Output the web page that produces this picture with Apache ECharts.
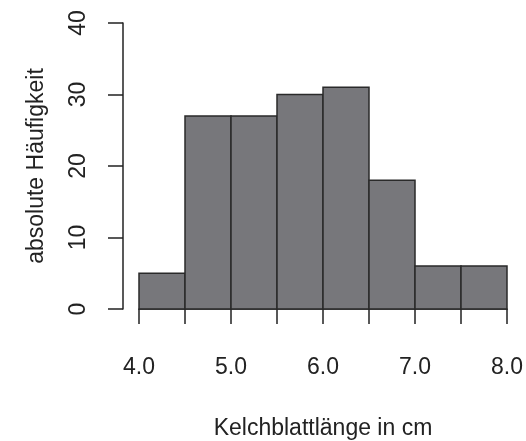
<!DOCTYPE html>
<html><head><meta charset="utf-8">
<script src="https://cdn.jsdelivr.net/npm/echarts@6/dist/echarts.min.js"></script>
<style>html,body{margin:0;padding:0;background:#fff}#c{width:526px;height:441px}</style>
</head><body><div id="c"></div>
<script>
const binStarts = [4.0, 4.5, 5.0, 5.5, 6.0, 6.5, 7.0, 7.5];
const binEnds   = [4.5, 5.0, 5.5, 6.0, 6.5, 7.0, 7.5, 8.0];
const counts    = [5, 27, 27, 30, 31, 18, 6, 6];
const xTitle = 'Kelchblattlänge in cm';
const yTitle = 'absolute Häufigkeit';

const data = binStarts.map((s, i) => [s, binEnds[i], counts[i]]);
const font = 'Liberation Sans, Arial, sans-serif';
const chart = echarts.init(document.getElementById('c'));
chart.setOption({
  animation: false,
  grid: {left: 139, right: 19, top: 23, bottom: 132, containLabel: false, outerBoundsMode: 'none'},
  xAxis: {
    type: 'value', min: 4, max: 8, interval: 0.5, offset: 12,
    axisLine: {show: true, lineStyle: {color: '#222', width: 1.5}},
    axisTick: {show: true, length: 15, lineStyle: {color: '#222', width: 1.5}},
    splitLine: {show: false},
    axisLabel: {margin: 35, fontSize: 23, color: '#222', fontFamily: font,
      formatter: v => (Math.round(v * 2) % 2 === 0 ? v.toFixed(1) : '')},
    name: xTitle, nameLocation: 'middle', nameGap: 96,
    nameTextStyle: {fontSize: 23, color: '#222', fontFamily: font}
  },
  yAxis: {
    type: 'value', min: 0, max: 40, interval: 10, offset: 16,
    axisLine: {show: true, lineStyle: {color: '#222', width: 1.5}},
    axisTick: {show: true, length: 15, lineStyle: {color: '#222', width: 1.5}},
    splitLine: {show: false},
    axisLabel: {margin: 33, fontSize: 23, color: '#222', fontFamily: font, rotate: 90},
    name: yTitle, nameLocation: 'middle', nameGap: 75, nameRotate: 90,
    nameTextStyle: {fontSize: 23, color: '#222', fontFamily: font}
  },
  series: [{
    type: 'custom',
    data: data,
    encode: {x: [0, 1], y: 2},
    renderItem: function (params, api) {
      const p0 = api.coord([api.value(0), 0]);
      const p1 = api.coord([api.value(1), api.value(2)]);
      return {
        type: 'rect',
        shape: {x: p0[0], y: p1[1], width: p1[0] - p0[0], height: p0[1] - p1[1]},
        style: {fill: '#77777b', stroke: '#2a2a2a', lineWidth: 1.5}
      };
    }
  }]
});
</script></body></html>
